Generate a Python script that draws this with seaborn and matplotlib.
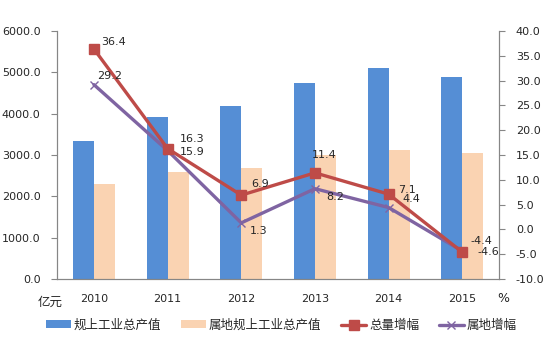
import matplotlib.pyplot as plt
import seaborn as sns
import numpy as np
import pandas as pd
from matplotlib.lines import Line2D
from matplotlib.patches import Patch

years = ["2010", "2011", "2012", "2013", "2014", "2015"]
total_output = [3350, 3910, 4180, 4750, 5100, 4900]
local_output = [2300, 2590, 2680, 3000, 3120, 3050]
total_growth = [36.4, 16.3, 6.9, 11.4, 7.1, -4.6]
local_growth = [29.2, 15.9, 1.3, 8.2, 4.4, -4.4]

bar_names = ["规上工业总产值", "属地规上工业总产值"]
line_names = ["总量增幅", "属地增幅"]

c_blue = "#558ED5"
c_peach = "#FAD3B2"
c_red = "#BE4B48"
c_purple = "#7F64A2"
c_axis = "#868686"

sns.set_style("white")
plt.rcParams['font.family'] = ['DejaVu Sans', 'Noto Sans CJK SC']

df = pd.DataFrame({
    "year": years * 2,
    "value": total_output + local_output,
    "series": [bar_names[0]] * 6 + [bar_names[1]] * 6,
})

fig = plt.figure(figsize=(5.54, 3.46), dpi=100)
ax = fig.add_axes([0.103, 0.194, 0.798, 0.716])

sns.barplot(data=df, x="year", y="value", hue="series", hue_order=bar_names,
            palette=[c_blue, c_peach], width=0.57, saturation=1, ax=ax, legend=False,
            linewidth=0, edgecolor="none")
ax.set_ylim(0, 6000)
ax.set_xlim(-0.5, 5.5)
ax.set_yticks(np.arange(0, 6001, 1000))
ax.set_yticklabels([f"{v:.1f}" for v in np.arange(0, 6001, 1000)], fontsize=8)
ax.set_xlabel("")
ax.set_ylabel("")
ax.set_xticks(range(6))
ax.set_xticklabels(years, fontsize=8)
ax.set_xticks(np.arange(-0.5, 6, 1), minor=True)
ax.tick_params(axis="x", which="major", length=0, pad=11)
ax.tick_params(axis="x", which="minor", length=5, color=c_axis, direction="out")
ax.tick_params(axis="y", length=4, color=c_axis, direction="out", left=True, pad=8)
for s in ["left", "bottom", "right"]:
    ax.spines[s].set_color(c_axis)
    ax.spines[s].set_linewidth(0.8)
ax.spines["top"].set_visible(False)

ax2 = ax.twinx()
x = np.arange(6)
ax2.plot(x, total_growth, color=c_red, lw=2.4, marker="s", ms=6.5, zorder=3)
ax2.plot(x, local_growth, color=c_purple, lw=2.4, marker="x", ms=6, mew=1, zorder=2)
ax2.set_ylim(-10, 40)
ax2.set_yticks(np.arange(-10, 41, 5))
ax2.set_yticklabels([f"{v:.1f}" for v in np.arange(-10, 41, 5)], fontsize=8)
ax2.tick_params(axis="y", length=4, color=c_axis, direction="out", right=True, pad=8)
for s in ["left", "bottom", "right"]:
    ax2.spines[s].set_color(c_axis)
    ax2.spines[s].set_linewidth(0.8)
ax2.spines["top"].set_visible(False)

# label offsets in points, text vertically centred
red_off = [(5, 5), (9, 7), (7, 8), (-2, 13), (7, 3), (11, 0)]
purple_off = [(2, 6), (9, -1), (6, -6), (8, -6), (10, 6), (6, 7)]
for i in range(6):
    ax2.annotate(f"{total_growth[i]}", (x[i], total_growth[i]), xytext=red_off[i],
                 textcoords="offset points", fontsize=8, ha="left", va="center")
    ax2.annotate(f"{local_growth[i]}", (x[i], local_growth[i]), xytext=purple_off[i],
                 textcoords="offset points", fontsize=8, ha="left", va="center")

fig.text(0.09, 0.125, "亿元", fontsize=9, ha="center", va="center")
fig.text(0.908, 0.138, "%", fontsize=9, ha="center", va="center")

handles = [
    Patch(facecolor=c_blue, edgecolor="none"),
    Patch(facecolor=c_peach, edgecolor="none"),
    Line2D([], [], color=c_red, lw=2.4, marker="s", ms=6.5),
    Line2D([], [], color=c_purple, lw=2.4, marker="x", ms=6, mew=1),
]
fig.legend(handles, bar_names + line_names, loc="center", bbox_to_anchor=(0.508, 0.06),
           ncol=4, frameon=False, fontsize=9, handlelength=2.0, handleheight=0.6,
           columnspacing=1.6, handletextpad=0.2)

fig.savefig("out.png", dpi=100)
